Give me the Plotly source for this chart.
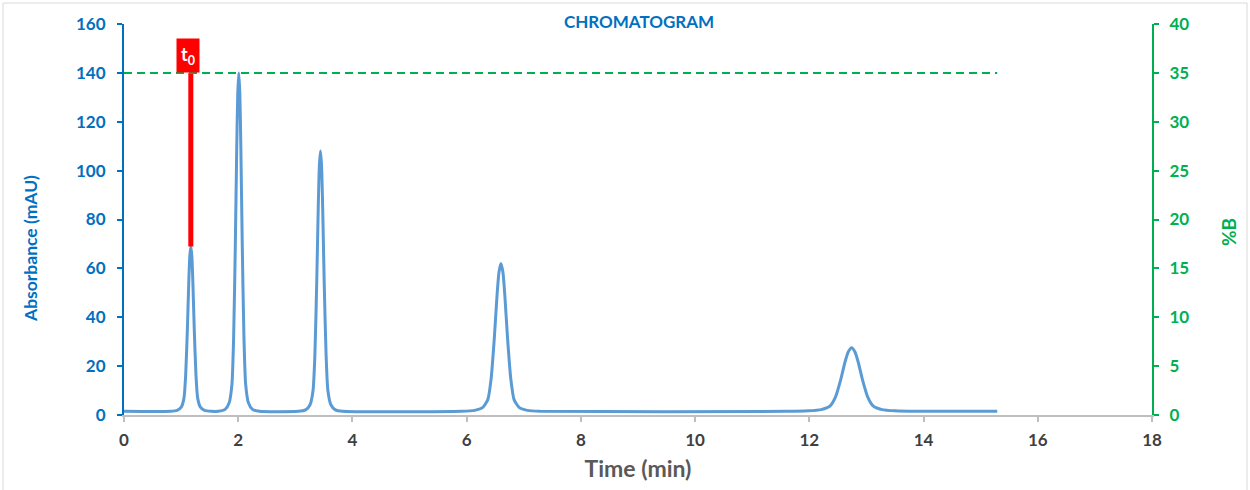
import plotly.graph_objects as go

# ---- data ----
time_min = [
    0.0,
    0.81, 0.93, 1.002, 1.05, 1.08, 1.11, 1.134, 1.152, 1.17, 1.188, 1.206, 1.23, 1.26, 1.29, 1.338, 1.41, 1.53,
    1.65, 1.77, 1.842, 1.89, 1.92, 1.95, 1.974, 1.992, 2.01, 2.028, 2.046, 2.07, 2.10, 2.13, 2.178, 2.25, 2.37,
    3.05, 3.18, 3.258, 3.31, 3.343, 3.375, 3.401, 3.420, 3.44, 3.460, 3.479, 3.505, 3.538, 3.57, 3.622, 3.70, 3.83,
    5.91, 6.14, 6.278, 6.37, 6.428, 6.485, 6.531, 6.566, 6.60, 6.635, 6.669, 6.715, 6.773, 6.83, 6.922, 7.06, 7.29,
    11.60, 11.98, 12.208, 12.36, 12.455, 12.55, 12.626, 12.683, 12.74, 12.797, 12.854, 12.93, 13.025, 13.12, 13.272, 13.50, 13.88,
    15.29,
]
absorbance = [
    1.5,
    1.5, 1.9, 3.2, 6.9, 16.4, 35.3, 54.2, 65.0, 69.0, 65.0, 54.2, 35.3, 16.4, 6.9, 3.2, 1.9, 1.5,
    1.5, 2.3, 5.0, 12.6, 32.0, 70.8, 109.5, 131.7, 140.0, 131.7, 109.5, 70.8, 32.0, 12.6, 5.0, 2.3, 1.5,
    1.5, 2.1, 4.2, 10.0, 24.9, 54.8, 84.6, 101.6, 108.0, 101.6, 84.6, 54.8, 24.9, 10.0, 4.2, 2.1, 1.5,
    1.5, 1.9, 3.0, 6.3, 14.8, 31.8, 48.7, 58.4, 62.0, 58.4, 48.7, 31.8, 14.8, 6.3, 3.0, 1.9, 1.5,
    1.5, 1.7, 2.2, 3.6, 7.2, 14.5, 21.8, 25.9, 27.5, 25.9, 21.8, 14.5, 7.2, 3.6, 2.2, 1.7, 1.5,
    1.5,
]
gradient_time = [0.0, 15.29]
gradient_B = [35, 35]
t0_time = 1.17
t0_span = [69, 140]

x_ticks = [0, 2, 4, 6, 8, 10, 12, 14, 16, 18]
y_ticks = [0, 20, 40, 60, 80, 100, 120, 140, 160]
y2_ticks = [0, 5, 10, 15, 20, 25, 30, 35, 40]

BLUE = "#0070C0"
LINE_BLUE = "#5B9BD5"
GREEN = "#00B050"
GRAY_TXT = "#595959"
FONT = "Lato"

fig = go.Figure()
fig.add_trace(go.Scatter(
    x=time_min, y=absorbance, mode="lines",
    line=dict(color=LINE_BLUE, width=3, shape="spline", smoothing=0.6),
    hoverinfo="skip", showlegend=False))
fig.add_trace(go.Scatter(
    x=gradient_time, y=gradient_B, yaxis="y2", mode="lines",
    line=dict(color=GREEN, width=2, dash="8px,5px"),
    showlegend=False))
fig.add_trace(go.Scatter(
    x=[t0_time, t0_time], y=t0_span, mode="lines",
    line=dict(color="#FF0000", width=5),
    showlegend=False))

fig.add_annotation(
    x=t0_time, y=t0_span[1], xref="x", yref="y",
    text="<b>t<sub>0</sub></b>", showarrow=False,
    yanchor="bottom", xanchor="center", xshift=-3,
    bgcolor="#FF0000", font=dict(color="white", size=18, family=FONT),
    borderpad=4)

# axis titles placed as in the reference
fig.add_annotation(
    x=(30 - 124) / 1028, y=(415 - 249) / 391, xref="paper", yref="paper",
    text="<b>Absorbance (mAU)</b>", textangle=-90, showarrow=False,
    xanchor="center", yanchor="middle",
    font=dict(color=BLUE, size=17.5, family=FONT))
fig.add_annotation(
    x=(1228 - 124) / 1028, y=(415 - 232) / 391, xref="paper", yref="paper",
    text="<b>%B</b>", textangle=-90, showarrow=False,
    xanchor="center", yanchor="middle",
    font=dict(color=GREEN, size=19, family=FONT))

fig.update_layout(
    width=1250, height=490,
    margin=dict(l=124, r=98, t=24, b=75),
    paper_bgcolor="white", plot_bgcolor="white",
    font=dict(family=FONT),
    title=dict(text="<b>CHROMATOGRAM</b>", x=639/1250, xanchor="center",
               y=1 - 22/490, yanchor="middle",
               font=dict(color=BLUE, size=17, family=FONT)),
    xaxis=dict(range=[0, 18], tickvals=x_ticks, showgrid=False, zeroline=False,
               showline=True, linecolor="#BFBFBF", linewidth=2,
               ticks="outside", ticklen=5, tickcolor="#BFBFBF", tickwidth=2,
               ticklabelstandoff=4,
               tickfont=dict(color="#404040", size=17, family=FONT, weight="bold"),
               title=dict(text="<b>Time (min)</b>", font=dict(color=GRAY_TXT, size=23, family=FONT), standoff=11)),
    yaxis=dict(range=[0, 160], tickvals=y_ticks, showgrid=False, zeroline=False,
               showline=True, linecolor=BLUE, linewidth=2,
               ticks="outside", ticklen=5, tickcolor=BLUE, tickwidth=2,
               ticklabelstandoff=8,
               tickfont=dict(color=BLUE, size=17, family=FONT, weight="bold")),
    yaxis2=dict(range=[0, 40], tickvals=y2_ticks, overlaying="y", side="right",
                showgrid=False, zeroline=False,
                showline=True, linecolor=GREEN, linewidth=2,
                ticks="outside", ticklen=5, tickcolor=GREEN, tickwidth=2,
                ticklabelstandoff=7,
                tickfont=dict(color=GREEN, size=17, family=FONT, weight="bold")),
)

# light chart-area border
fig.add_shape(type="rect", xref="paper", yref="paper",
              x0=-121/1028, x1=1 + 95/1028, y0=-90/391, y1=1 + 21/391,
              line=dict(color="#D9D9D9", width=1), layer="below")

fig.write_html("out.html", config={"displayModeBar": False},
               post_script="document.body.style.margin='0';")
